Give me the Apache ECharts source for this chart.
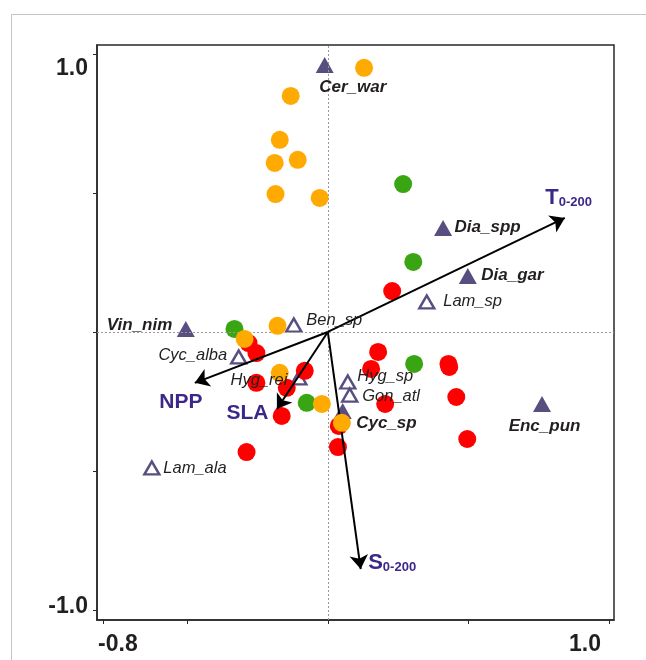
<!DOCTYPE html>
<html><head><meta charset="utf-8">
<script src="https://cdn.jsdelivr.net/npm/echarts@6/dist/echarts.min.js"></script>
<style>html,body{margin:0;padding:0;background:#fff}#c{width:646px;height:660px}</style>
</head><body><div id="c"></div>
<script>
// ---- data ----
const xTickValues = [-0.8, -0.5, 0, 0.5, 1.0];
const yTickValues = [-1.0, -0.5, 0, 0.5, 1.0];
const xLabelValues = [-0.8, 1.0];
const yLabelValues = [-1.0, 1.0];

const orangeSites = [[0.129,0.950],[-0.132,0.849],[-0.171,0.691],[-0.189,0.608],[-0.107,0.619],[-0.186,0.496],[-0.029,0.482],[-0.179,0.022],[-0.296,-0.025],[-0.171,-0.147],[-0.021,-0.259],[0.050,-0.327]];
const greenSites = [[0.268,0.532],[0.304,0.252],[0.307,-0.115],[-0.075,-0.255],[-0.332,0.011]];
const redSites = [[0.229,0.147],[0.179,-0.072],[0.154,-0.133],[-0.082,-0.140],[0.429,-0.115],[0.432,-0.126],[0.457,-0.234],[0.204,-0.259],[0.039,-0.338],[0.036,-0.414],[0.496,-0.385],[-0.282,-0.040],[-0.254,-0.076],[-0.254,-0.183],[-0.146,-0.201],[-0.164,-0.302],[-0.289,-0.432]];

const openSpeciesNames = ['Ben_sp','Cyc_alba','Hyg_rei','Hyg_sp','Gon_atl','Lam_sp','Lam_ala'];
const openSpeciesXY = [[-0.121,0.025],[-0.317,-0.090],[-0.103,-0.165],[0.071,-0.180],[0.078,-0.227],[0.352,0.108],[-0.626,-0.489]];
const filledSpeciesNames = ['Cer_war','Dia_spp','Dia_gar','Vin_nim','Cyc_sp','Enc_pun'];
const filledSpeciesXY = [[-0.011,0.960],[0.410,0.374],[0.498,0.201],[-0.505,0.011],[0.053,-0.284],[0.762,-0.259]];

const envNames = ['T','NPP','SLA','S'];
const envSubs = ['0-200','','','0-200'];
const envXY = [[0.843,0.410],[-0.473,-0.183],[-0.181,-0.277],[0.117,-0.853]];

// ---- styling / layout (not data) ----
const FONT = '"Liberation Sans", Arial, sans-serif';
const TXT = '#231F20';
const PURPLE_TRI = '#594E80';
const PURPLE_TXT = '#3C2889';
const labelLayout = {
  Cer_war:{p:[-5,23],a:'left'}, Dia_spp:{p:[12,0],a:'left'}, Dia_gar:{p:[14,0],a:'left'},
  Vin_nim:{p:[-13,-3],a:'right'}, Cyc_sp:{p:[14,13],a:'left'}, Enc_pun:{p:[3,23],a:'center'},
  Ben_sp:{p:[13,-4],a:'left'}, Cyc_alba:{p:[-11,-1],a:'right'}, Hyg_rei:{p:[-11,3],a:'right'},
  Hyg_sp:{p:[10,-5],a:'left'}, Gon_atl:{p:[13,2],a:'left'}, Lam_sp:{p:[17,0],a:'left'},
  Lam_ala:{p:[12,1],a:'left'}
};
const envLayout = { T:[-19,-20], NPP:[-35,19], SLA:[-50,4], S:[8,-6] };

function speciesLabelItems(names, xy, bold) {
  return names.map((n, i) => ({
    value: xy[i],
    label: {
      show: true, formatter: n, position: labelLayout[n].p, align: labelLayout[n].a,
      verticalAlign: 'middle', color: TXT, opacity: 1, fontFamily: FONT, fontStyle: 'italic',
      fontWeight: bold ? 'bold' : 'normal', fontSize: bold ? 17 : 16.5
    }
  }));
}
const envLabelItems = envNames.map((n, i) => ({
  value: envXY[i],
  label: {
    show: true, position: envLayout[n], align: 'left', verticalAlign: 'middle', opacity: 1,
    formatter: envSubs[i] ? '{m|' + n + '}{s|' + envSubs[i] + '}' : '{m|' + n + '}',
    rich: {
      m: {fontFamily: FONT, fontWeight: 'bold', fontSize: (n === 'T' || n === 'S') ? 22 : 21, color: PURPLE_TXT, lineHeight: 22, verticalAlign: 'bottom'},
      s: {fontFamily: FONT, fontWeight: 'bold', fontSize: 13, color: PURPLE_TXT, lineHeight: 13, verticalAlign: 'bottom'}
    }
  }
}));

const chart = echarts.init(document.getElementById('c'), null, {renderer: 'canvas'});
const circle = (data, color, z) => ({type:'scatter', data, symbol:'circle', symbolSize:18, z, itemStyle:{color, opacity:1}, silent:true});
const textOnly = (data) => ({type:'scatter', data, symbolSize:1, z:7, silent:true, itemStyle:{color:'rgba(0,0,0,0)', opacity:1}});

chart.setOption({
  animation: false,
  backgroundColor: '#fff',
  graphic: [{type:'rect', left:9, top:12, shape:{width:700, height:700}, style:{fill:'none', stroke:'#C4C4C4', lineWidth:1}, z:-10, silent:true}],
  grid: {left:97, right:32, top:45, bottom:40, show:true, borderColor:'#2B2728', borderWidth:1.5, backgroundColor:'transparent'},
  xAxis: {
    type:'value', min:-0.821, max:1.018,
    splitLine:{show:false},
    axisLine:{show:true, onZero:false, lineStyle:{color:'#2B2728', width:1.5}},
    axisTick:{show:true, customValues:xTickValues, length:4, inside:false, lineStyle:{color:'#2B2728', width:1}},
    axisLabel:{show:true, customValues:xLabelValues, margin:13,
      formatter: v => v < 0 ? '{l|' + v.toFixed(1) + '}' : '{r|' + v.toFixed(1) + '}',
      rich:{
        l:{fontFamily:FONT, fontWeight:'bold', fontSize:23, color:TXT, padding:[0,0,0,30]},
        r:{fontFamily:FONT, fontWeight:'bold', fontSize:23, color:TXT, padding:[0,48,0,0]}
      }}
  },
  yAxis: {
    type:'value', min:-1.036, max:1.032,
    splitLine:{show:false},
    axisLine:{show:true, onZero:false, lineStyle:{color:'#2B2728', width:1.5}},
    axisTick:{show:true, customValues:yTickValues, length:4, inside:false, lineStyle:{color:'#2B2728', width:1}},
    axisLabel:{show:true, customValues:yLabelValues, margin:9,
      formatter: v => v > 0 ? '{a|' + v.toFixed(1) + '}' : '{b|' + v.toFixed(1) + '}',
      rich:{
        a:{fontFamily:FONT, fontWeight:'bold', fontSize:23, color:TXT, padding:[30,0,0,0]},
        b:{fontFamily:FONT, fontWeight:'bold', fontSize:23, color:TXT, padding:[0,0,6,0]}
      }}
  },
  series: [
    {type:'scatter', data:[[0,0]], symbolSize:0, z:1, silent:true,
      markLine:{silent:true, symbol:'none', label:{show:false}, animation:false,
        lineStyle:{color:'#9A9A9A', type:[2,2], width:1, opacity:1},
        data:[{xAxis:0},{yAxis:0}]}},
    {type:'scatter', name:'filled', data:filledSpeciesXY, symbol:'triangle', symbolSize:[18,16], z:2,
      itemStyle:{color:PURPLE_TRI, opacity:1}, silent:true},
    {type:'scatter', name:'open', data:openSpeciesXY, symbol:'triangle', symbolSize:[15,13], z:2,
      itemStyle:{color:'rgba(255,255,255,0)', borderColor:PURPLE_TRI, borderWidth:2.4, opacity:1}, silent:true},
    circle(redSites, '#FF0000', 3),
    circle(greenSites, '#3AA512', 4),
    circle(orangeSites, '#FFAA00', 5),
    {type:'scatter', data:[[0,0]], symbolSize:0, z:6, silent:true,
      markLine:{silent:true, symbol:['none','arrow'], symbolSize:14, label:{show:false}, animation:false,
        lineStyle:{color:'#000', type:'solid', width:2, opacity:1},
        data: envXY.map(v => [{coord:[0,0]},{coord:v}])}},
    textOnly(speciesLabelItems(filledSpeciesNames, filledSpeciesXY, true)),
    textOnly(speciesLabelItems(openSpeciesNames, openSpeciesXY, false)),
    textOnly(envLabelItems)
  ]
});
</script>
</body></html>
